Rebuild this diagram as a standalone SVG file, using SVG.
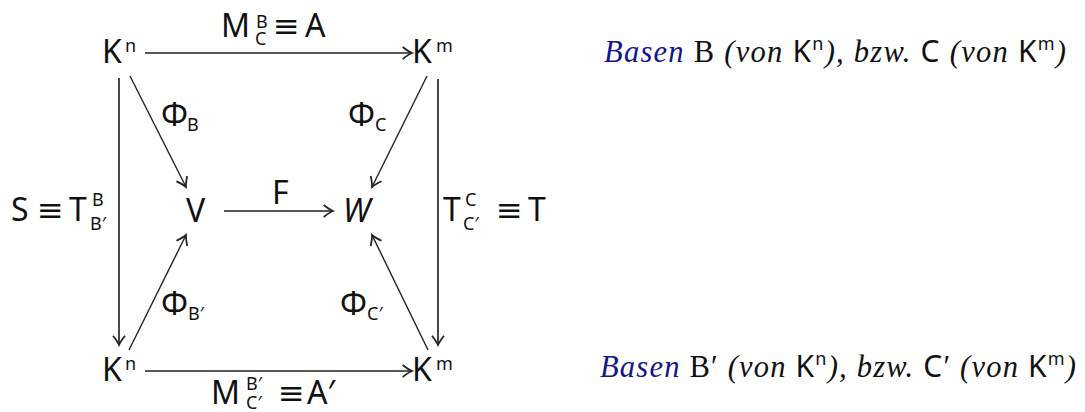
<svg xmlns="http://www.w3.org/2000/svg" width="1085" height="412" viewBox="0 0 1085 412">
<style>
.m{font-family:"Noto Sans","DejaVu Sans",sans-serif;font-size:32px;fill:#111}
.s{font-family:"Noto Sans","DejaVu Sans",sans-serif;font-size:18px;fill:#111}
.it{font-style:italic}
.r{font-family:"Liberation Serif","Times New Roman",serif;font-size:30.5px;fill:#111}
.rk{font-family:"Noto Sans","DejaVu Sans",sans-serif;font-size:30px}
.rs{font-family:"Noto Sans","DejaVu Sans",sans-serif;font-size:18px}
.blue{fill:#14148c}
.ln{stroke:#222;stroke-width:1.4;fill:none}
.vl{stroke:#333;stroke-width:1.8;fill:none}
</style>
<defs>
<marker id="ah" markerUnits="userSpaceOnUse" markerWidth="16" markerHeight="16" viewBox="-9 -6 10 12" refX="0" refY="0" orient="auto" overflow="visible">
<path d="M -7 -4.5 Q -2.5 -1 0 0 Q -2.5 1 -7 4.5" fill="none" stroke="#222" stroke-width="1.3"/>
</marker>
</defs>
<g id="connectors">
<line class="ln" x1="145" y1="53" x2="412" y2="53" marker-end="url(#ah)"/>
<line class="ln" x1="145" y1="371" x2="412" y2="371" marker-end="url(#ah)"/>
<line class="ln" x1="224" y1="211" x2="333" y2="211" marker-end="url(#ah)"/>
<line class="vl" x1="119" y1="78" x2="119" y2="345" marker-end="url(#ah)"/>
<line class="vl" x1="438" y1="79" x2="438" y2="345" marker-end="url(#ah)"/>
<line class="ln" x1="130" y1="76" x2="186" y2="187" marker-end="url(#ah)"/>
<line class="ln" x1="427" y1="76" x2="372" y2="187" marker-end="url(#ah)"/>
<line class="ln" x1="129" y1="350" x2="186" y2="235" marker-end="url(#ah)"/>
<line class="ln" x1="428" y1="350" x2="372" y2="235" marker-end="url(#ah)"/>
</g>
<g id="node-Kn-top">
<text class="m" x="102" y="63">K</text><text class="s" x="125" y="52">n</text>
</g>
<g id="node-Km-top">
<text class="m" x="412" y="63">K</text><text class="s" x="436" y="52">m</text>
</g>
<g id="node-Kn-bottom">
<text class="m" x="102" y="381">K</text><text class="s" x="125" y="370">n</text>
</g>
<g id="node-Km-bottom">
<text class="m" x="412" y="381">K</text><text class="s" x="436" y="370">m</text>
</g>
<g id="node-V">
<text class="m" x="186" y="222">V</text>
</g>
<g id="node-W">
<text class="m it" x="343" y="222">W</text>
</g>
<g id="labels">
<text class="m" x="221" y="37">M</text><text class="s" x="256" y="28">B</text><text class="s" x="255" y="45">C</text><text class="m" x="273" y="37">≡</text><text class="m" x="305" y="37">A</text>
<text class="m" x="211" y="404">M</text><text class="s" x="246" y="390">B′</text><text class="s" x="246" y="409">C′</text><text class="m" x="278" y="404">≡</text><text class="m" x="307" y="404">A′</text>
<text class="m" x="272" y="204">F</text>
<text class="m" x="161" y="126">Φ</text><text class="s" x="187" y="131">B</text>
<text class="m" x="348" y="126">Φ</text><text class="s" x="375" y="131">C</text>
<text class="m" x="161" y="315">Φ</text><text class="s" x="188" y="320">B′</text>
<text class="m" x="340" y="315">Φ</text><text class="s" x="367" y="320">C′</text>
<text class="m" x="11" y="221">S</text><text class="m" x="37" y="221">≡</text><text class="m" x="69" y="221">T</text><text class="s" x="92" y="206">B</text><text class="s" x="90" y="230">B′</text>
<text class="m" x="443" y="221">T</text><text class="s" x="465" y="206">C</text><text class="s" x="463" y="230">C′</text><text class="m" x="496" y="221">≡</text><text class="m" x="528" y="221">T</text>
</g>
<g id="note-top">
<text class="r" x="604" y="62" textLength="462" lengthAdjust="spacing"><tspan class="it blue">Basen</tspan> B <tspan class="it">(von</tspan> <tspan class="rk">K</tspan><tspan class="rs" dy="-12">n</tspan><tspan class="it" dy="12">), bzw.</tspan> <tspan class="rk">C</tspan> <tspan class="it">(von</tspan> <tspan class="rk">K</tspan><tspan class="rs" dy="-12">m</tspan><tspan class="it" dy="12">)</tspan></text>
</g>
<g id="note-bottom">
<text class="r" x="600" y="377" textLength="476" lengthAdjust="spacing"><tspan class="it blue">Basen</tspan> B′ <tspan class="it">(von</tspan> <tspan class="rk">K</tspan><tspan class="rs" dy="-12">n</tspan><tspan class="it" dy="12">), bzw.</tspan> <tspan class="rk">C</tspan>′ <tspan class="it">(von</tspan> <tspan class="rk">K</tspan><tspan class="rs" dy="-12">m</tspan><tspan class="it" dy="12">)</tspan></text>
</g>
</svg>
